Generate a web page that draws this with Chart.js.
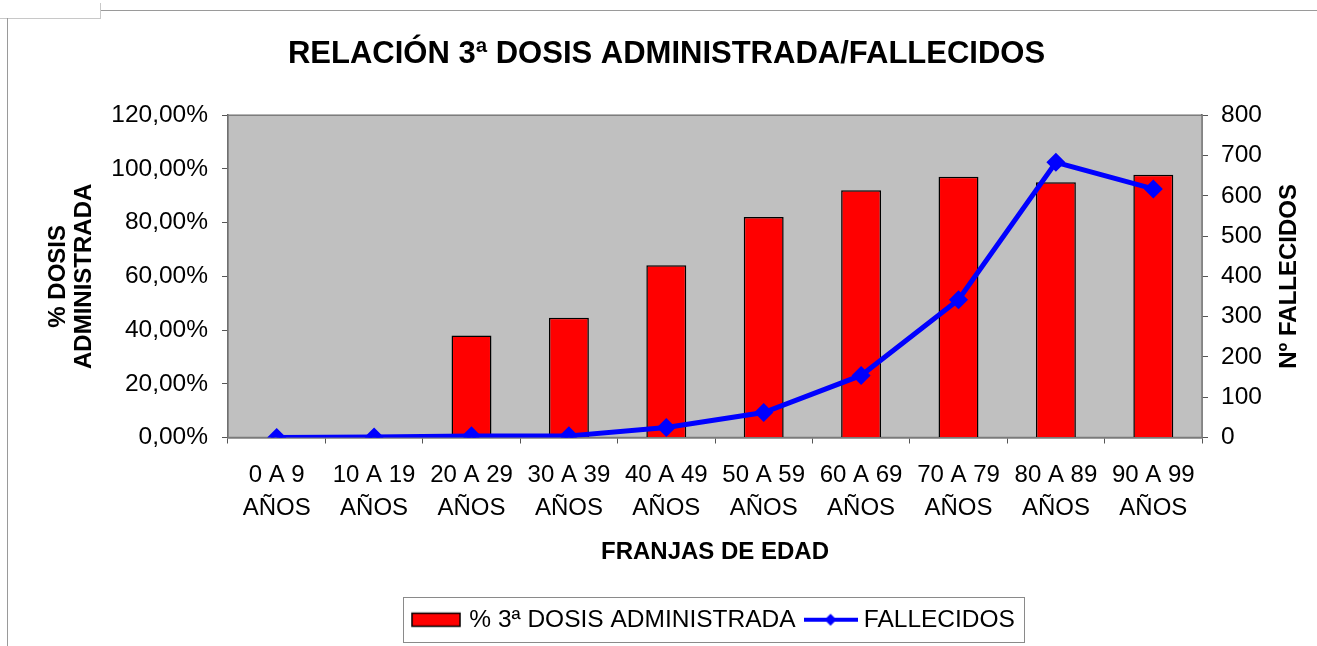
<!DOCTYPE html>
<html>
<head>
<meta charset="utf-8">
<script src="https://cdn.jsdelivr.net/npm/chart.js@4/dist/chart.umd.min.js"></script>
<style>
  html, body { margin: 0; padding: 0; background: #fff; }
  #wrap { position: relative; width: 1317px; height: 646px; overflow: hidden; }
  canvas { position: absolute; left: 0; top: 0; }
  .ln { position: absolute; background: #9a9a9a; }
</style>
</head>
<body>
<div id="wrap">
  <canvas id="c" width="1317" height="646"></canvas>
  <div class="ln" style="left:100px; top:10px; width:1217px; height:1px;"></div>
  <div class="ln" style="left:100px; top:3px; width:1px; height:15px; background:#c8c8c8;"></div>
  <div class="ln" style="left:0px; top:18px; width:101px; height:1px; background:#c8c8c8;"></div>
  <div class="ln" style="left:7px; top:18px; width:1px; height:628px;"></div>
</div>
<script>
// ---- data ----
const categories = [
  ["0 A 9", "AÑOS"], ["10 A 19", "AÑOS"], ["20 A 29", "AÑOS"], ["30 A 39", "AÑOS"],
  ["40 A 49", "AÑOS"], ["50 A 59", "AÑOS"], ["60 A 69", "AÑOS"], ["70 A 79", "AÑOS"],
  ["80 A 89", "AÑOS"], ["90 A 99", "AÑOS"]
];
const dosisPct = [0, 0, 38.0, 44.6, 64.1, 82.1, 92.1, 97.1, 95.0, 97.8];
const fallecidos = [0, 1, 4, 4, 25, 62, 154, 342, 683, 617];
const leftTicks = [0, 20, 40, 60, 80, 100, 120];
const rightTicks = [0, 100, 200, 300, 400, 500, 600, 700, 800];
const titleText = "RELACIÓN 3ª DOSIS ADMINISTRADA/FALLECIDOS";
const seriesNames = ["% 3ª DOSIS ADMINISTRADA", "FALLECIDOS"];
const leftAxisTitle = ["% DOSIS", "ADMINISTRADA"];
const rightAxisTitle = "Nº FALLECIDOS";
const xAxisTitle = "FRANJAS DE EDAD";

// ---- legend icons ----
function barIcon() {
  const c = document.createElement('canvas');
  c.width = 50; c.height = 18;
  const g = c.getContext('2d');
  g.fillStyle = '#ff0000';
  g.fillRect(1, 2.5, 48, 13);
  g.strokeStyle = '#000'; g.lineWidth = 1.5;
  g.strokeRect(1, 2.5, 48, 13);
  return c;
}
function lineIcon() {
  const c = document.createElement('canvas');
  c.width = 54; c.height = 16;
  const g = c.getContext('2d');
  g.strokeStyle = '#0000ff'; g.lineWidth = 4;
  g.beginPath(); g.moveTo(0, 8); g.lineTo(54, 8); g.stroke();
  g.fillStyle = '#0000ff';
  g.beginPath(); g.moveTo(27, 2); g.lineTo(33, 8); g.lineTo(27, 14); g.lineTo(21, 8); g.closePath(); g.fill();
  return c;
}
const icons = [barIcon(), lineIcon()];

const FONT = "'Liberation Sans', Arial, sans-serif";

const bgPlugin = {
  id: 'plotbg',
  beforeDatasetsDraw(chart) {
    const {ctx, chartArea: a} = chart;
    ctx.save();
    ctx.fillStyle = '#c0c0c0';
    ctx.fillRect(a.left, a.top, a.right - a.left, a.bottom - a.top);
    ctx.strokeStyle = '#7a7a7a';
    ctx.lineWidth = 1.5;
    ctx.strokeRect(a.left, a.top, a.right - a.left, a.bottom - a.top);
    ctx.restore();
  },
  afterDraw(chart) {
    const ctx = chart.ctx;
    // right axis title, reading bottom-to-top
    const a = chart.chartArea;
    ctx.save();
    ctx.translate(1289, (a.top + a.bottom) / 2);
    ctx.rotate(-Math.PI / 2);
    ctx.fillStyle = '#000';
    ctx.font = "bold 24px " + FONT;
    ctx.textAlign = 'center';
    ctx.textBaseline = 'middle';
    ctx.fillText(rightAxisTitle, 0, 0);
    ctx.restore();

    const lg = chart.legend;
    if (!lg || !lg.legendHitBoxes || !lg.legendHitBoxes.length) return;
    const hb = lg.legendHitBoxes;
    let l = Infinity, r = -Infinity;
    hb.forEach(h => { l = Math.min(l, h.left); r = Math.max(r, h.left + h.width); });
    const t = hb[0].top;
    ctx.save();
    ctx.strokeStyle = '#8a8a8a';
    ctx.lineWidth = 1;
    ctx.strokeRect(Math.round(l - 12) + 0.5, Math.round(t - 11) + 0.5, Math.round(r - l + 21), 45);
    ctx.restore();
  }
};

new Chart(document.getElementById('c'), {
  data: {
    labels: categories,
    datasets: [
      {
        type: 'line',
        label: seriesNames[1],
        data: fallecidos,
        yAxisID: 'y1',
        borderColor: '#0000ff',
        backgroundColor: '#0000ff',
        borderWidth: 5,
        pointStyle: 'rectRot',
        pointRadius: 6,
        pointBackgroundColor: '#0000ff',
        pointBorderColor: '#0000ff',
        tension: 0,
        order: 0
      },
      {
        type: 'bar',
        label: seriesNames[0],
        data: dosisPct,
        yAxisID: 'y',
        backgroundColor: '#ff0000',
        borderColor: '#000000',
        borderWidth: 1.5,
        borderSkipped: 'bottom',
        barPercentage: 0.41,
        categoryPercentage: 1.0,
        order: 1
      }
    ]
  },
  options: {
    responsive: false,
    animation: false,
    devicePixelRatio: 1,
    layout: { padding: { left: 30, right: 14, top: 0, bottom: 4 } },
    plugins: {
      title: {
        display: true,
        text: titleText,
        color: '#000',
        font: { family: FONT, size: 31, weight: 'bold', lineHeight: 1.2 },
        padding: { top: 36, bottom: 42 }
      },
      legend: {
        position: 'bottom',
        fullSize: false,
        labels: {
          usePointStyle: true,
          pointStyleWidth: 42,
          padding: 14,
          color: '#000',
          font: { family: FONT, size: 24.5 },
          generateLabels(chart) {
            return [0, 1].map(i => ({
              text: seriesNames[i],
              pointStyle: icons[i],
              fillStyle: i === 0 ? '#ff0000' : '#0000ff',
              strokeStyle: 'transparent',
              lineWidth: 0,
              hidden: false,
              datasetIndex: i === 0 ? 1 : 0,
              fontColor: '#000'
            }));
          }
        }
      },
      tooltip: { enabled: false }
    },
    scales: {
      x: {
        type: 'category',
        offset: true,
        grid: { display: true, drawOnChartArea: false, drawTicks: true, tickLength: 6, offset: true, color: '#555' },
        border: { display: true, color: '#555', width: 1.5 },
        ticks: { color: '#000', font: { family: FONT, size: 24, lineHeight: 1.375 }, padding: 15, maxRotation: 0, autoSkip: false },
        title: {
          display: true,
          text: xAxisTitle,
          color: '#000',
          font: { family: FONT, size: 24, weight: 'bold', lineHeight: 1.1 },
          padding: { top: 0, bottom: 28 }
        },
        afterFit(s) { s.height = 156; }
      },
      y: {
        position: 'left',
        min: 0, max: 120,
        afterBuildTicks(s) { s.ticks = leftTicks.map(v => ({ value: v })); },
        grid: { display: true, drawOnChartArea: false, drawTicks: true, tickLength: 6, color: '#555' },
        border: { display: true, color: '#555', width: 1.5 },
        ticks: {
          color: '#000', padding: 14,
          font: { family: FONT, size: 24.5 },
          callback: v => v.toFixed(2).replace('.', ',') + '%'
        },
        title: {
          display: true,
          text: leftAxisTitle,
          color: '#000',
          font: { family: FONT, size: 24, weight: 'bold', lineHeight: 1.1 },
          padding: { top: 15, bottom: 0 }
        },
        afterFit(s) { s.width = 198; }
      },
      y1: {
        position: 'right',
        min: 0, max: 800,
        afterBuildTicks(s) { s.ticks = rightTicks.map(v => ({ value: v })); },
        grid: { display: true, drawOnChartArea: false, drawTicks: true, tickLength: 6, color: '#555' },
        border: { display: true, color: '#555', width: 1.5 },
        ticks: { color: '#000', padding: 13, font: { family: FONT, size: 24.5 } },
        title: { display: false },
        afterFit(s) { s.width = 101; }
      }
    }
  },
  plugins: [bgPlugin]
});
</script>
</body>
</html>
